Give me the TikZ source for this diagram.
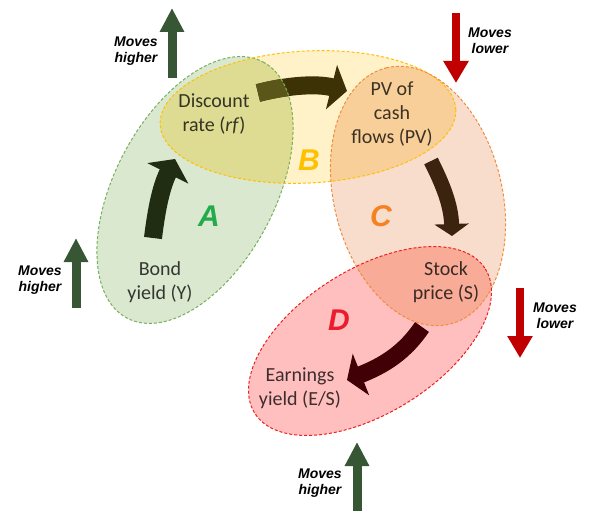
\documentclass[tikz,border=0pt]{standalone}
\usepackage{fontspec}
\setmainfont{Carlito}
\newfontfamily\arialfont{Liberation Sans}
\usetikzlibrary{arrows.meta}

\definecolor{fillA}{RGB}{218,232,208}
\definecolor{fillB}{RGB}{255,242,200}
\definecolor{fillC}{RGB}{249,221,204}
\definecolor{fillD}{RGB}{255,191,191}
\definecolor{fillAB}{RGB}{222,219,146}
\definecolor{fillBC}{RGB}{248,207,152}
\definecolor{fillCD}{RGB}{248,172,152}
\definecolor{rimA}{RGB}{120,175,90}
\definecolor{rimB}{RGB}{255,192,0}
\definecolor{rimC}{RGB}{240,140,60}
\definecolor{rimD}{RGB}{240,30,30}
\definecolor{letA}{RGB}{35,170,75}
\definecolor{letB}{RGB}{255,192,0}
\definecolor{letC}{RGB}{245,130,32}
\definecolor{letD}{RGB}{235,28,45}
\definecolor{arrA}{RGB}{33,45,18}
\definecolor{arrB}{RGB}{60,50,5}
\definecolor{arrBlight}{RGB}{90,85,25}
\definecolor{arrC}{RGB}{60,35,15}
\definecolor{arrD}{RGB}{65,0,5}
\definecolor{upgreen}{RGB}{55,86,52}
\definecolor{downred}{RGB}{192,0,0}

% the four zones
\newcommand{\ovalA}{[rotate around={62:(195,190)}] (195,190) ellipse [x radius=145, y radius=80]}
\newcommand{\ovalB}{[rotate around={3:(308,117)}] (308,117) ellipse [x radius=148, y radius=66]}
\newcommand{\ovalC}{[rotate around={104:(418,196)}] (418,196) ellipse [x radius=132, y radius=84]}
\newcommand{\ovalD}{[rotate around={32:(370,341)}] (370,341) ellipse [x radius=136, y radius=72]}

\begin{document}
\begin{tikzpicture}[x=1pt,y=-1pt,
  lbl/.style={font=\fontsize{20}{24}\selectfont, align=center, text=black, text opacity=0.76},
  zone/.style={font=\arialfont\bfseries\itshape\fontsize{30}{30}\selectfont},
  note/.style={font=\arialfont\bfseries\itshape\fontsize{14}{16}\selectfont, align=center},
  rim/.style={dash pattern=on 3pt off 2pt, line width=1pt},
  curvy/.style={line width=18pt, -{Triangle[length=16pt,width=45pt]}},
  rise/.style={draw=upgreen, line width=9pt, -{Triangle[length=24pt,width=23pt]}},
  fall/.style={draw=downred, line width=8pt, -{Triangle[length=22pt,width=24pt]}}]
  \useasboundingbox (0,0) rectangle (590,511);

  % fills
  \fill[fillA] \ovalA;
  \fill[fillB] \ovalB;
  \fill[fillC] \ovalC;
  \fill[fillD] \ovalD;
  \begin{scope}
    \clip \ovalA;
    \fill[fillAB] \ovalB;
  \end{scope}
  \begin{scope}
    \clip \ovalB;
    \fill[fillBC] \ovalC;
  \end{scope}
  \begin{scope}
    \clip \ovalC;
    \fill[fillCD] \ovalD;
  \end{scope}

  % curved arrows
  \coordinate (a0) at (153,238);
  \coordinate (a1) at (175,159);
  \coordinate (b0) at (258,93);
  \coordinate (b1) at (347,91);
  \coordinate (c0) at (431,161);
  \coordinate (c1) at (452,236);
  \coordinate (d0) at (422,327);
  \coordinate (d1) at (347,380);
  \draw[curvy, arrA] (a0) .. controls (157,205) and (162,185) .. (a1);
  \draw[curvy, arrB] (b0) .. controls (285,86) and (315,83) .. (b1);
  \begin{scope}
    \clip \ovalA;
    \draw[curvy, arrBlight] (b0) .. controls (285,86) and (315,83) .. (b1);
  \end{scope}
  \draw[line width=15pt, arrC, -{Triangle[length=12pt,width=34pt]}] (c0) .. controls (443,185) and (451,205) .. (c1);
  \draw[line width=17pt, arrD, -{Triangle[length=15pt,width=44pt]}] (d0) .. controls (405,352) and (385,365) .. (d1);

  % borders
  \draw[rim, rimA] \ovalA;
  \draw[rim, rimB] \ovalB;
  \draw[rim, rimC] \ovalC;
  \draw[rim, rimD] \ovalD;

  % labels
  \node[lbl] (disc) at (214,114) {Discount\\rate (\textit{rf})};
  \node[lbl] (pv) at (392,114) {PV of\\cash\\flows (PV)};
  \node[lbl] (stock) at (446,282) {Stock\\price (S)};
  \node[lbl] (bond) at (160,282) {Bond\\yield (Y)};
  \node[lbl] (earn) at (300,388) {Earnings\\yield (E/S)};

  \node[zone, letA] (zA) at (209,216) {A};
  \node[zone, letB] (zB) at (309,160) {B};
  \node[zone, letC] (zC) at (381,216) {C};
  \node[zone, letD] (zD) at (339,320) {D};

  % moves higher / lower
  \coordinate (h1) at (172,78);  \coordinate (h1t) at (172,8);
  \coordinate (h2) at (76,308);  \coordinate (h2t) at (76,238);
  \coordinate (h3) at (357,511); \coordinate (h3t) at (357,442);
  \coordinate (l1) at (456,13);  \coordinate (l1t) at (456,83);
  \coordinate (l2) at (520,288); \coordinate (l2t) at (520,358);
  \draw[rise] (h1) -- (h1t);
  \draw[rise] (h2) -- (h2t);
  \draw[rise] (h3) -- (h3t);
  \draw[fall] (l1) -- (l1t);
  \draw[fall] (l2) -- (l2t);

  \node[note] (mh1) at (136,51) {Moves\\higher};
  \node[note] (mh2) at (40,280) {Moves\\higher};
  \node[note] (mh3) at (320,483) {Moves\\higher};
  \node[note] (ml1) at (490,41) {Moves\\lower};
  \node[note] (ml2) at (555,316) {Moves\\lower};
\end{tikzpicture}
\end{document}
